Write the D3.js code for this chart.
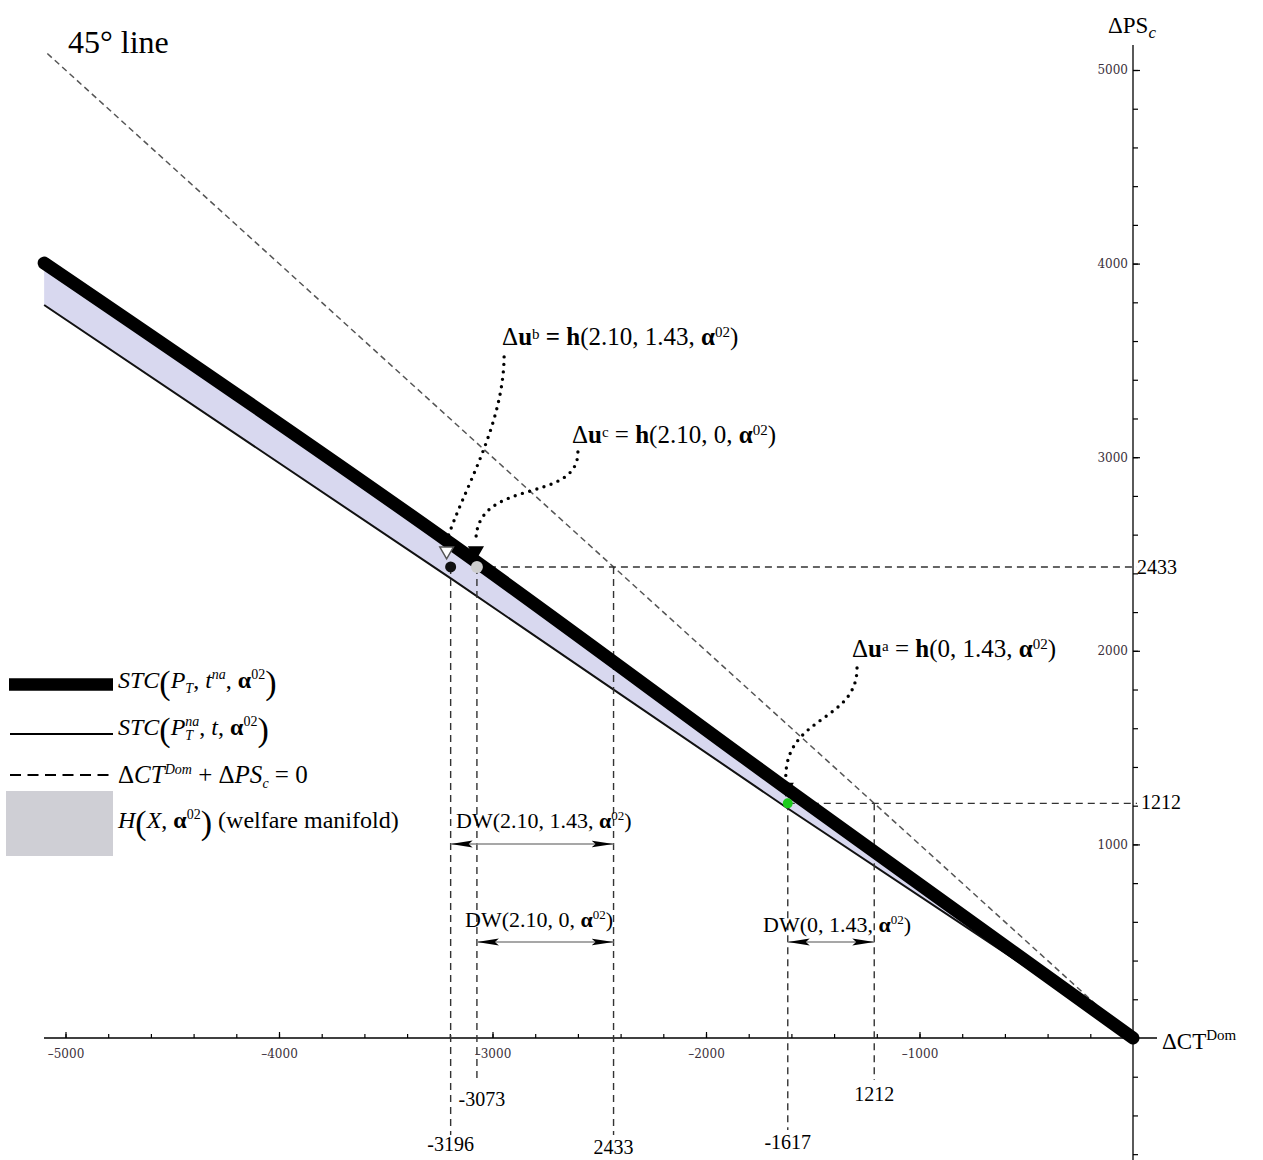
<!DOCTYPE html>
<html>
<head>
<meta charset="utf-8">
<script src="https://cdn.jsdelivr.net/npm/d3@7"></script>
<style>
  html, body { margin: 0; padding: 0; background: #fff; }
  svg { display: block; }
  text { white-space: pre; }
</style>
</head>
<body>
<svg id="chart" width="1263" height="1160"></svg>
<script>
// Welfare-manifold diagram: ΔCT^Dom (horizontal) against ΔPS_c (vertical)

// Boundary curves of the welfare manifold, sampled at common ΔCT values
const stcX = [-5100, -3185, -1620, 0];
const stcUpperY = [4003, 2546, 1286, 0];   // STC(P_T, t^na, α^02)
const stcLowerY = [3786, 2366, 1188, 0];   // STC(P_T^na, t, α^02)

// 45° line ΔCT + ΔPS = 0
const line45X = [-5085, 0];

// Welfare points Δu^b, Δu^c, Δu^a
const pointNames = ["b", "c", "a"];
const pointCT = [-3196, -3073, -1617];
const pointPS = [2433, 2433, 1212];

// Deadweight-loss spans along ΔCT
const dwFrom = [-3196, -3073, -1617];
const dwTo = [-2433, -2433, -1212];

// Axis ticks
const xTickValues = [-5000, -4000, -3000, -2000, -1000];
const xTickLabels = ["–5000", "–4000", "–3000", "–2000", "–1000"];
const yTickValues = [1000, 2000, 3000, 4000, 5000];
const yTickLabels = ["1000", "2000", "3000", "4000", "5000"];

const W = 1263, H = 1160;
const svg = d3.select("#chart");
const SERIF = "'Liberation Serif', 'Times New Roman', serif";
const TICKFONT = "'DejaVu Serif', serif";

const x = d3.scaleLinear().domain([-5000, 0]).range([65.5, 1133]);
const y = d3.scaleLinear().domain([0, 5000]).range([1038, 70]);

// ---------- helpers ----------
function rich(parent, px, py, segs, size, anchor) {
  const t = parent.append("text")
    .attr("x", px).attr("y", py)
    .attr("font-family", SERIF)
    .attr("font-size", size)
    .attr("fill", "#000")
    .attr("text-anchor", anchor || "start");
  let off = 0;
  segs.forEach(s => {
    const o = s.o || 0;
    const ts = t.append("tspan").text(s.t).attr("dy", o - off);
    off = o;
    if (s.fs) ts.attr("font-size", s.fs);
    if (s.i) ts.attr("font-style", "italic");
    if (s.b) ts.attr("font-weight", "bold");
    if (s.dx) ts.attr("dx", s.dx);
  });
  return t;
}

const defs = svg.append("defs");
defs.append("marker")
  .attr("id", "head")
  .attr("markerUnits", "userSpaceOnUse")
  .attr("markerWidth", 24).attr("markerHeight", 10)
  .attr("refX", 22).attr("refY", 4)
  .attr("orient", "auto-start-reverse")
  .append("path")
  .attr("d", "M0,0.6 L22,4 L0,7.4 L4,4 Z")
  .attr("fill", "#000");

// ---------- welfare manifold band ----------
const band = d3.area()
  .x((d, i) => x(stcX[i]))
  .y0((d, i) => y(stcLowerY[i]))
  .y1((d, i) => y(stcUpperY[i]))
  .curve(d3.curveMonotoneX);
svg.append("path")
  .datum(stcX)
  .attr("d", band)
  .attr("fill", "#d8d8ef");

const lowerLine = d3.line()
  .x((d, i) => x(stcX[i]))
  .y((d, i) => y(stcLowerY[i]))
  .curve(d3.curveMonotoneX);
svg.append("path")
  .datum(stcX)
  .attr("d", lowerLine)
  .attr("fill", "none")
  .attr("stroke", "#111")
  .attr("stroke-width", 2);

// ---------- axes ----------
const axisG = svg.append("g");
// horizontal axis line
axisG.append("line")
  .attr("x1", 44).attr("x2", 1157)
  .attr("y1", y(0)).attr("y2", y(0))
  .attr("stroke", "#000").attr("stroke-width", 1.3);
// vertical axis line
axisG.append("line")
  .attr("x1", x(0)).attr("x2", x(0))
  .attr("y1", 45).attr("y2", H)
  .attr("stroke", "#000").attr("stroke-width", 1.3);

const minorX = d3.range(-5000, 0, 200);
const minorY = d3.range(-600, 5001, 200);

const xMinor = d3.axisBottom(x).tickValues(minorX).tickSize(-4).tickFormat("");
axisG.append("g").attr("transform", `translate(0,${y(0)})`).call(xMinor)
  .call(g => g.select(".domain").remove());
const xMajor = d3.axisBottom(x).tickValues(xTickValues).tickSize(-6).tickSizeOuter(0)
  .tickPadding(11).tickFormat((d, i) => xTickLabels[i]);
axisG.append("g").attr("transform", `translate(0,${y(0)})`).call(xMajor)
  .call(g => g.select(".domain").remove())
  .call(g => g.selectAll("text").attr("font-family", TICKFONT).attr("font-size", 12).attr("fill", "#3a2f3a"));

const yMinor = d3.axisLeft(y).tickValues(minorY).tickSize(-5).tickFormat("");
axisG.append("g").attr("transform", `translate(${x(0)},0)`).call(yMinor)
  .call(g => g.select(".domain").remove());
const yMajor = d3.axisLeft(y).tickValues(yTickValues).tickSize(-7).tickSizeOuter(0)
  .tickPadding(5).tickFormat((d, i) => yTickLabels[i]);
axisG.append("g").attr("transform", `translate(${x(0)},0)`).call(yMajor)
  .call(g => g.select(".domain").remove())
  .call(g => g.selectAll("text").attr("font-family", TICKFONT).attr("font-size", 12).attr("fill", "#3a2f3a"));
axisG.selectAll(".tick line").attr("stroke", "#000").attr("stroke-width", 1.2);

// axis titles
rich(svg, 1108, 33, [{t: "ΔPS"}, {t: "c", i: true, fs: 17, o: 5}], 23);
rich(svg, 1162, 1049, [{t: "ΔCT"}, {t: "Dom", fs: 15, o: -9}], 23);

// ---------- 45° line ----------
svg.append("line")
  .attr("x1", x(line45X[0])).attr("y1", y(-line45X[0]))
  .attr("x2", x(line45X[1])).attr("y2", y(-line45X[1]))
  .attr("stroke", "#555").attr("stroke-width", 1.5)
  .attr("stroke-dasharray", "6,4");
rich(svg, 68, 53, [{t: "45° line"}], 32);

// ---------- reference (projection) lines ----------
const refG = svg.append("g")
  .attr("stroke", "#333").attr("stroke-width", 1.4)
  .attr("stroke-dasharray", "7,5").attr("fill", "none");
// horizontal: from point c and point a to the vertical axis
[[pointCT[1], pointPS[1]], [pointCT[2], pointPS[2]]].forEach(([cx, cy]) => {
  refG.append("line")
    .attr("x1", x(cx)).attr("x2", x(0) + 4)
    .attr("y1", y(cy)).attr("y2", y(cy));
});
// vertical drops, each ending just above its own value label
const drops = [
  {v: pointCT[0], top: pointPS[0], end: 1135},
  {v: pointCT[1], top: pointPS[1], end: 1083},
  {v: dwTo[0],    top: pointPS[0], end: 1135},
  {v: pointCT[2], top: pointPS[2], end: 1130},
  {v: dwTo[2],    top: pointPS[2], end: 1080}
];
drops.forEach(d => {
  refG.append("line")
    .attr("x1", x(d.v)).attr("x2", x(d.v))
    .attr("y1", y(d.top)).attr("y2", d.end);
});

// value labels for the projections
const valLabels = [
  {t: "-3196", v: pointCT[0], py: 1151, dx: 0},
  {t: "-3073", v: pointCT[1], py: 1106, dx: 5},
  {t: "2433",  v: dwTo[0],    py: 1154, dx: 0},
  {t: "-1617", v: pointCT[2], py: 1149, dx: 0},
  {t: "1212",  v: dwTo[2],    py: 1101, dx: 0}
];
valLabels.forEach(l => rich(svg, x(l.v) + l.dx, l.py, [{t: l.t}], 20, "middle"));
rich(svg, x(0) + 4, y(pointPS[0]) + 7, [{t: "2433"}], 20);
rich(svg, x(0) + 8, y(pointPS[2]) + 6, [{t: "1212"}], 20);

// ---------- upper boundary (thick) ----------
const upperLine = d3.line()
  .x((d, i) => x(stcX[i]))
  .y((d, i) => y(stcUpperY[i]))
  .curve(d3.curveMonotoneX);
svg.append("path")
  .datum(stcX)
  .attr("d", upperLine)
  .attr("fill", "none")
  .attr("stroke", "#000")
  .attr("stroke-width", 13)
  .attr("stroke-linecap", "round");

// ---------- deadweight-loss spans ----------
const dwRowY = [844, 942, 942];
dwFrom.forEach((f, i) => {
  svg.append("line")
    .attr("x1", x(f)).attr("x2", x(dwTo[i]))
    .attr("y1", dwRowY[i]).attr("y2", dwRowY[i])
    .attr("stroke", "#8a8a8a").attr("stroke-width", 1.3)
    .attr("marker-start", "url(#head)")
    .attr("marker-end", "url(#head)");
});
const alpha = [{t: "α", b: true}, {t: "02", fs: 13, o: -8}, {t: ")", o: 0}];
rich(svg, 456, 828, [{t: "DW(2.10, 1.43, "}].concat(alpha), 22);
rich(svg, 465, 927, [{t: "DW(2.10, 0, "}].concat(alpha), 22);
rich(svg, 763, 932, [{t: "DW(0, 1.43, "}].concat(alpha), 22);

// ---------- welfare points ----------
const ptStyle = {
  b: {fill: "#111", r: 5.5},
  c: {fill: "#cdcdcd", r: 6},
  a: {fill: "#1ccc1c", r: 5}
};
pointNames.forEach((n, i) => {
  svg.append("circle")
    .attr("cx", x(pointCT[i])).attr("cy", y(pointPS[i]))
    .attr("r", ptStyle[n].r)
    .attr("fill", ptStyle[n].fill);
});

// pointer triangles above each point
const tri = d3.symbol().type(d3.symbolTriangle).size(80);
const triStyle = {
  b: {fill: "#fff", stroke: "#555", dx: -4},
  c: {fill: "#000", stroke: "#000", dx: -1},
  a: {fill: "#000", stroke: "#000", dx: -2}
};
pointNames.forEach((n, i) => {
  const s = triStyle[n];
  svg.append("path")
    .attr("d", tri())
    .attr("transform", `translate(${x(pointCT[i]) + s.dx},${y(pointPS[i]) - 16}) rotate(180)`)
    .attr("fill", s.fill).attr("stroke", s.stroke).attr("stroke-width", 1.5);
});

// ---------- annotations with dotted leaders ----------
const notes = {
  b: {lx: -2955, ly: 3580, bold: true, args: "(2.10, 1.43, "},
  c: {lx: -2628, ly: 3073, bold: false, args: "(2.10, 0, "},
  a: {lx: -1316, ly: 1968, bold: false, args: "(0, 1.43, "}
};
// leader bend offsets (px): start below the Δ, first/second control handles
const leaderShape = {
  b: {sx: 2,  sy: 12, c1: [-1, 70], c2: [16, -50]},
  c: {sx: 6,  sy: 9,  c1: [0, 52],  c2: [0, -64]},
  a: {sx: 5,  sy: 11, c1: [0, 54],  c2: [0, -62]}
};
pointNames.forEach((n, i) => {
  const a = notes[n];
  const px = x(a.lx), py = y(a.ly);
  rich(svg, px, py, [
    {t: "Δ"}, {t: "u", b: true}, {t: n, fs: 15, o: -6},
    {t: " = ", b: a.bold, o: 0}, {t: "h", b: true}, {t: a.args},
    {t: "α", b: true}, {t: "02", fs: 15, o: -8}, {t: ")", o: 0}
  ], 25);

  const L = leaderShape[n];
  const sx = px + L.sx, sy = py + L.sy;
  const ex = x(pointCT[i]) + triStyle[n].dx, ey = y(pointPS[i]) - 26;
  const p = d3.path();
  p.moveTo(sx, sy);
  p.bezierCurveTo(sx + L.c1[0], sy + L.c1[1], ex + L.c2[0], ey + L.c2[1], ex, ey);
  svg.append("path")
    .attr("d", p.toString())
    .attr("fill", "none").attr("stroke", "#000")
    .attr("stroke-width", 3.4).attr("stroke-linecap", "round")
    .attr("stroke-dasharray", "0 7.5");
});

// ---------- legend ----------
const lg = svg.append("g");
lg.append("line").attr("x1", 9).attr("x2", 113).attr("y1", 684.5).attr("y2", 684.5)
  .attr("stroke", "#000").attr("stroke-width", 12.5);
lg.append("line").attr("x1", 10).attr("x2", 113).attr("y1", 734).attr("y2", 734)
  .attr("stroke", "#000").attr("stroke-width", 2);
lg.append("line").attr("x1", 10).attr("x2", 113).attr("y1", 775).attr("y2", 775)
  .attr("stroke", "#000").attr("stroke-width", 2).attr("stroke-dasharray", "11,6.5");
lg.append("rect").attr("x", 6).attr("y", 791).attr("width", 107).attr("height", 65)
  .attr("fill", "#cfcfd5");

const BIG = 34, SUB = 14;
rich(lg, 118, 688, [
  {t: "STC", i: true}, {t: "(", fs: BIG, o: 6}, {t: "P", i: true, o: 0},
  {t: "T", i: true, fs: SUB, o: 5}, {t: ", ", o: 0}, {t: "t", i: true},
  {t: "na", i: true, fs: SUB, o: -9}, {t: ", ", o: 0}, {t: "α", b: true},
  {t: "02", fs: SUB, o: -9}, {t: ")", fs: BIG, o: 6}
], 24);
rich(lg, 118, 735, [
  {t: "STC", i: true}, {t: "(", fs: BIG, o: 6}, {t: "P", i: true, o: 0},
  {t: "T", i: true, fs: SUB, o: 5}, {t: "na", i: true, fs: SUB, o: -9, dx: -7.8},
  {t: ", ", o: 0}, {t: "t", i: true}, {t: ", "}, {t: "α", b: true},
  {t: "02", fs: SUB, o: -9}, {t: ")", fs: BIG, o: 6}
], 24);
rich(lg, 118, 783, [
  {t: "Δ"}, {t: "CT", i: true}, {t: "Dom", i: true, fs: SUB, o: -9},
  {t: " + Δ", o: 0}, {t: "PS", i: true}, {t: "c", i: true, fs: SUB, o: 5},
  {t: " = 0", o: 0}
], 25);
rich(lg, 118, 828, [
  {t: "H", i: true}, {t: "(", fs: BIG, o: 6}, {t: "X", i: true, o: 0},
  {t: ", "}, {t: "α", b: true}, {t: "02", fs: SUB, o: -9},
  {t: ")", fs: BIG, o: 6}, {t: " (welfare manifold)", o: 0}
], 24);
</script>
</body>
</html>
